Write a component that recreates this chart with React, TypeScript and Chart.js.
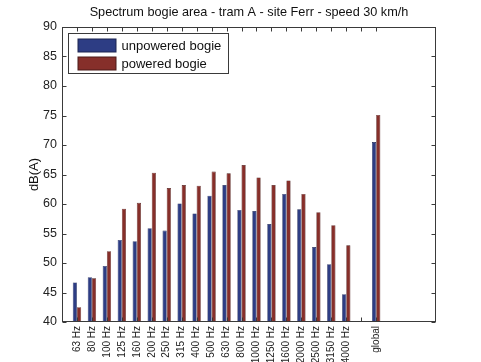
import React, { useEffect, useRef } from 'react';
import { Chart, registerables } from 'chart.js';

Chart.register(...registerables);

const categories = ['', '63 Hz', '80 Hz', '100 Hz', '125 Hz', '160 Hz', '200 Hz', '250 Hz', '315 Hz', '400 Hz', '500 Hz', '630 Hz', '800 Hz', '1000 Hz', '1250 Hz', '1600 Hz', '2000 Hz', '2500 Hz', '3150 Hz', '4000 Hz', '', 'global', '', '', '', ''];
const unpowered = [null, 46.7, 47.6, 49.5, 53.9, 53.7, 55.9, 55.5, 60.1, 58.4, 61.4, 63.2, 59.0, 58.8, 56.6, 61.7, 59.1, 52.7, 49.8, 44.7, null, 70.5, null, null, null, null];
const powered = [null, 42.5, 47.4, 52.0, 59.2, 60.2, 65.3, 62.7, 63.2, 63.1, 65.5, 65.2, 66.6, 64.5, 63.2, 64.0, 61.7, 58.6, 56.4, 53.0, null, 75.1, null, null, null, null];
const seriesNames = ['unpowered bogie', 'powered bogie'];
const titleText = 'Spectrum bogie area - tram A - site Ferr - speed 30 km/h';
const yTitle = 'dB(A)';
const yTicks = [40, 45, 50, 55, 60, 65, 70, 75, 80, 85, 90];
const xTickIndices = [1, 2, 3, 4, 5, 6, 7, 8, 9, 10, 11, 12, 13, 14, 15, 16, 17, 18, 19, 20, 21];

const BLUE = '#2d3d84';
const BLUE_EDGE = '#1c2450';
const RED = '#862f2a';
const RED_EDGE = '#4a1a18';
const FONT = "'Liberation Sans', Arial, Helvetica, sans-serif";

const framePlugin = {
  id: 'matlabFrame',
  afterDatasetsDraw(chart: any) {
    const { ctx, chartArea, scales } = chart;
    const { left, right, top, bottom } = chartArea;
    const x = scales.x;
    const y = scales.y;
    ctx.save();
    ctx.strokeStyle = '#3a3a3a';
    ctx.lineWidth = 1;
    const L = Math.round(left) + 0.5;
    const R = Math.round(right) - 0.5;
    const T = Math.round(top) + 0.5;
    const B = Math.round(bottom) - 0.5;
    ctx.strokeRect(L, T, R - L, B - T);
    ctx.beginPath();
    for (const i of xTickIndices) {
      const px = Math.round(x.getPixelForValue(i)) + 0.5;
      ctx.moveTo(px, T);
      ctx.lineTo(px, T + 4);
      ctx.moveTo(px, B);
      ctx.lineTo(px, B - 4);
    }
    for (const v of yTicks) {
      const py = Math.round(y.getPixelForValue(v)) + 0.5;
      ctx.moveTo(L, py);
      ctx.lineTo(L + 4, py);
      ctx.moveTo(R, py);
      ctx.lineTo(R - 4, py);
    }
    ctx.stroke();

    // legend box
    const bx = L + 6;
    const by = T + 6;
    const bw = 160;
    const bh = 40;
    ctx.fillStyle = '#ffffff';
    ctx.fillRect(bx, by, bw, bh);
    ctx.strokeStyle = '#3a3a3a';
    ctx.strokeRect(bx, by, bw, bh);
    const ds = chart.data.datasets;
    ds.forEach((d: any, k: number) => {
      const ry = by + 5 + k * 18;
      ctx.fillStyle = d.borderColor;
      ctx.fillRect(bx + 9, ry, 39, 14);
      ctx.fillStyle = d.backgroundColor;
      ctx.fillRect(bx + 10, ry + 1, 37, 12);
      ctx.fillStyle = '#111';
      ctx.font = `13px ${FONT}`;
      ctx.textBaseline = 'middle';
      ctx.textAlign = 'left';
      ctx.fillText(d.label, bx + 53, ry + 7.5);
    });
    ctx.restore();
  },
};

export default function App() {
  const ref = useRef<HTMLCanvasElement | null>(null);
  useEffect(() => {
    if (!ref.current) return;
    const chart = new Chart(ref.current, {
      type: 'bar',
      data: {
        labels: categories,
        datasets: [
          {
            label: seriesNames[0],
            data: unpowered,
            backgroundColor: BLUE,
            borderColor: BLUE_EDGE,
            borderWidth: 0.6,
            categoryPercentage: 0.56,
            barPercentage: 1.0,
          },
          {
            label: seriesNames[1],
            data: powered,
            backgroundColor: RED,
            borderColor: RED_EDGE,
            borderWidth: 0.6,
            categoryPercentage: 0.56,
            barPercentage: 1.0,
          },
        ],
      },
      options: {
        responsive: false,
        animation: false,
        devicePixelRatio: 1,
        layout: { padding: { left: 0, right: 45, top: 0, bottom: 0 } },
        plugins: {
          legend: { display: false },
          tooltip: { enabled: false },
          title: {
            display: true,
            text: titleText,
            fullSize: false,
            color: '#111',
            font: { family: FONT, size: 12.7, weight: 'normal' },
            padding: { top: 5, bottom: 6.76 },
          },
        },
        scales: {
          x: {
            type: 'category',
            offset: false,
            grid: { display: false, drawTicks: false },
            border: { display: false },
            ticks: {
              autoSkip: false,
              minRotation: 90,
              maxRotation: 90,
              padding: 4,
              color: '#222',
              font: { family: FONT, size: 10 },
            },
            afterFit: (s: any) => {
              s.height = 40;
            },
          },
          y: {
            min: 40,
            max: 90,
            grid: { display: false, drawTicks: false },
            border: { display: false },
            ticks: {
              stepSize: 5,
              padding: 5,
              color: '#222',
              font: { family: FONT, size: 12.5 },
            },
            title: {
              display: true,
              text: yTitle,
              color: '#111',
              font: { family: FONT, size: 13 },
              padding: { top: 27, bottom: 0 },
            },
            afterFit: (s: any) => {
              s.width = 62;
            },
          },
        },
      },
      plugins: [framePlugin],
    });
    return () => chart.destroy();
  }, []);
  return (
    <div style={{ position: 'fixed', left: 0, top: 0, width: 481, height: 362, background: '#fff' }}>
      <canvas ref={ref} width={481} height={362} style={{ display: 'block' }} />
    </div>
  );
}
